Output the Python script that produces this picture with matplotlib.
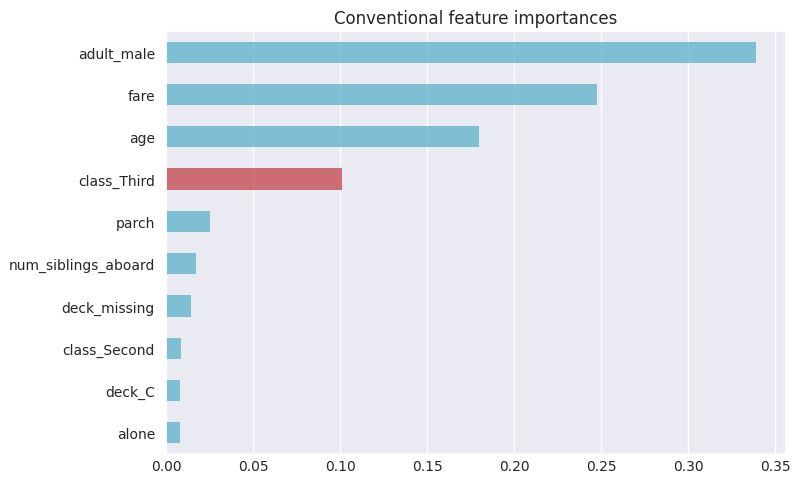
import matplotlib
matplotlib.use("Agg")
import matplotlib.pyplot as plt
import seaborn as sns

# feature importances, top to bottom as shown
features = ["adult_male", "fare", "age", "class_Third", "parch",
            "num_siblings_aboard", "deck_missing", "class_Second", "deck_C", "alone"]
importances = [0.3392, 0.2474, 0.1796, 0.1010, 0.0252,
               0.0173, 0.0143, 0.0086, 0.0081, 0.0080]
highlight = "class_Third"

sns.set_theme(style="darkgrid")
plt.rcParams['font.family'] = ['DejaVu Sans']

fig = plt.figure(figsize=(7.99, 4.89), dpi=100)
ax = fig.add_axes([166 / 799, 1 - 455 / 489, (786 - 166) / 799, (455 - 32) / 489])

# reverse so the largest sits on top
feats = features[::-1]
vals = importances[::-1]
colors = ["#C44E52" if f == highlight else "#64B5CD" for f in feats]
ax.barh(range(len(feats)), vals, height=0.5, color=colors, alpha=0.8, linewidth=0)
ax.set_yticks(range(len(feats)))
ax.set_yticklabels(feats)
ax.set_ylim(-0.5, len(feats) - 0.5)
ax.grid(axis="y", visible=False)
ax.tick_params(labelsize=10, length=0)
ax.tick_params(axis="y", pad=8)
ax.set_title("Conventional feature importances", fontsize=12)

fig.savefig("out.png", dpi=100)
